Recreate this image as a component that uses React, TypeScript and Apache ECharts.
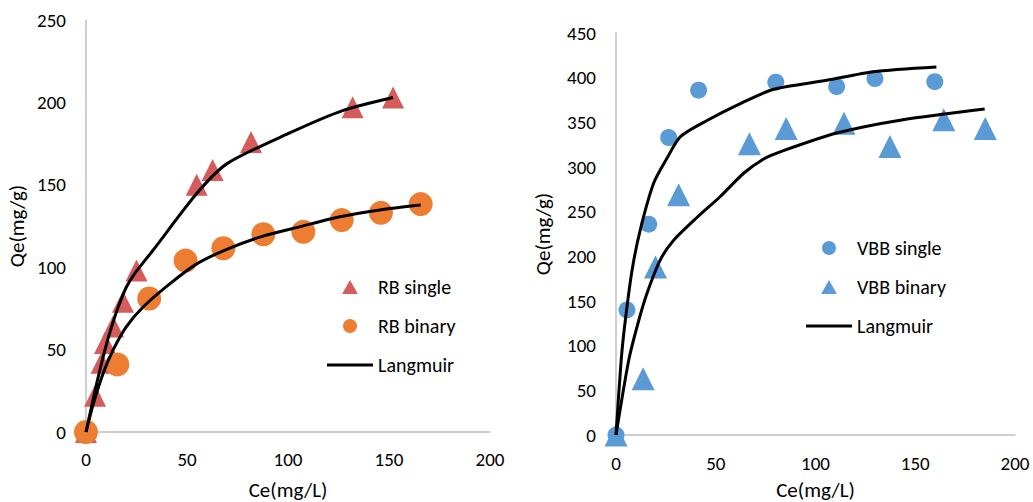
import React, { useEffect, useRef } from "react";
import * as echarts from "echarts";

// Left panel (RB)
const rbSingle: number[][] = [
  [0, 0], [4.5, 22], [7.7, 42], [9.4, 54], [13.4, 64], [18.3, 79], [25, 98],
  [54.8, 150], [62.7, 159], [81.7, 176], [132, 197], [152, 203],
];
const rbBinary: number[][] = [
  [0, 0], [15.5, 41], [31.3, 81], [49.3, 104], [68, 111.5], [87.8, 120],
  [107.6, 121.5], [126.6, 128.6], [146, 133], [165.7, 138.3],
];
const rbSingleFit: number[][] = [
  [0, 0], [5.3, 29.5], [9.4, 50], [12.7, 64], [16, 76], [20, 88], [24, 96],
  [33, 110], [55, 145], [70, 163], [100, 181], [127, 195], [152, 203],
];
const rbBinaryFit: number[][] = [
  [0, 0], [3.6, 17], [8.6, 36], [13.5, 50], [20, 64], [28.4, 76], [41.6, 90],
  [54.8, 102], [70, 111], [88, 119], [106, 124.6], [125.7, 130.6], [145.5, 134.7], [165.7, 137.7],
];

// Right panel (VBB)
const vbbSingle: number[][] = [
  [0, 0], [5.5, 140], [16.4, 236], [26.4, 333], [41.4, 386], [80.1, 395],
  [110.6, 390], [129.8, 399], [159.8, 395.5],
];
const vbbBinary: number[][] = [
  [0, 0], [13.6, 63], [19.8, 188], [31.4, 269], [66.9, 326], [85.3, 343],
  [114.3, 349], [137.3, 323], [164.3, 353], [185.1, 343],
];
const vbbSingleFit: number[][] = [
  [0, 0], [2.6, 84], [4.7, 129], [8.1, 185], [12.2, 230], [18.9, 282], [25.6, 310],
  [32.3, 334], [45.6, 352], [62.3, 371], [79, 387], [105.6, 397], [129, 406.7], [160.6, 412],
];
const vbbBinaryFit: number[][] = [
  [0, 0], [6.4, 84], [11.5, 129], [15.6, 159], [22.2, 196], [28.9, 218], [40.6, 243.5],
  [52.3, 267], [64, 293], [74, 309], [82.3, 317], [110.6, 338], [143.9, 353], [184.8, 365],
];

const xTitle = "Ce(mg/L)";
const yTitle = "Qe(mg/g)";
const leftLegend = ["RB single", "RB binary", "Langmuir"];
const rightLegend = ["VBB single", "VBB binary", "Langmuir"];

const FONT = "Carlito, Lato, 'Liberation Sans', sans-serif";
const RED = "#D65B5B";
const ORANGE = "#ED7D31";
const BLUE = "#5B9BD5";
const AXIS = "#BFBFBF";

const TRI_ICON = "path://M7,0 L14,12.5 L0,12.5 Z";
const LINE_ICON = "path://M0,0 L46,0 L46,3.2 L0,3.2 Z";

function xAxis(gridIndex: number, nameGap: number, labelMargin: number) {
  return {
    type: "value",
    gridIndex,
    min: 0,
    max: 200,
    interval: 50,
    name: xTitle,
    nameLocation: "middle",
    nameGap,
    nameTextStyle: { fontSize: 21, fontFamily: FONT, color: "#000", lineHeight: 22 },
    axisLine: { show: true, lineStyle: { color: AXIS, width: 1.5 } },
    axisTick: { show: false },
    splitLine: { show: false },
    axisLabel: { fontSize: 19, fontFamily: FONT, color: "#000", margin: labelMargin },
  };
}

function yAxis(gridIndex: number, max: number, nameGap: number) {
  return {
    type: "value",
    gridIndex,
    min: 0,
    max,
    interval: 50,
    name: yTitle,
    nameLocation: "middle",
    nameGap,
    nameRotate: 90,
    nameTextStyle: { fontSize: 21, fontFamily: FONT, color: "#000", lineHeight: 22 },
    axisLine: { show: true, onZero: false, lineStyle: { color: AXIS, width: 1.5 } },
    axisTick: { show: false },
    splitLine: { show: false },
    axisLabel: { fontSize: 19, fontFamily: FONT, color: "#000", margin: 20 },
  };
}

function fitLine(data: number[][], idx: number) {
  return {
    name: "Langmuir",
    type: "line",
    xAxisIndex: idx,
    yAxisIndex: idx,
    data,
    symbol: "none",
    smooth: 0.25,
    lineStyle: { color: "#000", width: 3 },
    itemStyle: { color: "#000" },
    z: 5,
  };
}

export default function App() {
  const ref = useRef<HTMLDivElement>(null);
  useEffect(() => {
    if (!ref.current) return;
    const chart = echarts.init(ref.current, null, { renderer: "svg" });
    const legendBase = {
      orient: "vertical",
      itemWidth: 46,
      itemHeight: 14,
      itemGap: 19,
      padding: 0,
      selectedMode: false,
      symbolKeepAspect: true,
      textStyle: { fontSize: 20, fontFamily: FONT, color: "#000", lineHeight: 20 },
    };
    chart.setOption({
      animation: false,
      backgroundColor: "#fff",
      grid: [
        { left: 86, top: 20, width: 404, height: 412, containLabel: false, outerBoundsMode: "none" },
        { left: 616, top: 33, width: 399, height: 402, containLabel: false, outerBoundsMode: "none" },
      ],
      xAxis: [xAxis(0, 47, 18), xAxis(1, 44, 19)],
      yAxis: [yAxis(0, 250, 58), yAxis(1, 450, 62)],
      legend: [
        {
          ...legendBase, left: 327, top: 277,
          data: [
            { name: leftLegend[0], icon: TRI_ICON },
            { name: leftLegend[1], icon: "circle" },
            { name: leftLegend[2], icon: LINE_ICON },
          ],
        },
        {
          ...legendBase, left: 806, top: 238,
          data: [
            { name: rightLegend[0], icon: "circle" },
            { name: rightLegend[1], icon: TRI_ICON },
            { name: rightLegend[2], icon: LINE_ICON },
          ],
        },
      ],
      series: [
        {
          name: "RB single", type: "scatter", xAxisIndex: 0, yAxisIndex: 0,
          data: rbSingle, symbol: "triangle", symbolSize: 22,
          itemStyle: { color: RED, opacity: 1 },
        },
        {
          name: "RB binary", type: "scatter", xAxisIndex: 0, yAxisIndex: 0,
          data: rbBinary, symbol: "circle", symbolSize: 24,
          itemStyle: { color: ORANGE, opacity: 1 },
        },
        fitLine(rbSingleFit, 0),
        fitLine(rbBinaryFit, 0),
        {
          name: "VBB single", type: "scatter", xAxisIndex: 1, yAxisIndex: 1,
          data: vbbSingle, symbol: "circle", symbolSize: 17,
          itemStyle: { color: BLUE, opacity: 1 },
        },
        {
          name: "VBB binary", type: "scatter", xAxisIndex: 1, yAxisIndex: 1,
          data: vbbBinary, symbol: "triangle", symbolSize: 23,
          itemStyle: { color: BLUE, opacity: 1 },
        },
        fitLine(vbbSingleFit, 1),
        fitLine(vbbBinaryFit, 1),
      ],
    });
    return () => chart.dispose();
  }, []);
  return (
    <div
      ref={ref}
      style={{ position: "fixed", left: 0, top: 0, width: 1033, height: 502, background: "#fff" }}
    />
  );
}
